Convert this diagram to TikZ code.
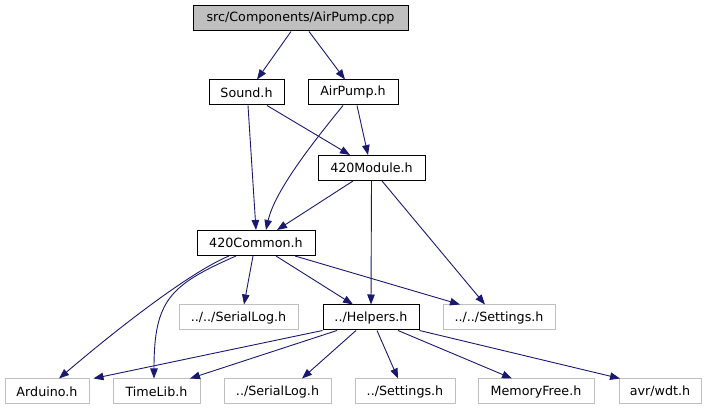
\documentclass[tikz,border=0pt]{standalone}
\usepackage{fontspec}
\setmainfont{DejaVu Sans}
\usepackage{tikz}
\usetikzlibrary{arrows.meta}
\definecolor{myedge}{RGB}{25,25,112}
\definecolor{mygrey}{RGB}{191,191,191}
\tikzset{
  filebox/.style={rectangle, draw=black, fill=white, line width=1pt,
    minimum height=25pt, inner sep=0pt, font=\fontsize{12.7}{15}\selectfont},
  extbox/.style={filebox, draw=mygrey},
  rootbox/.style={filebox, fill=mygrey},
  arrow/.style={-{Triangle[length=10pt,width=7.5pt]}, line width=0.9pt, color=myedge}
}

\begin{document}
\begin{tikzpicture}[x=1pt, y=-1pt]
  \useasboundingbox (0,0) rectangle (707,411);

  % Top level
  \node[rootbox, minimum width=215pt] (cpp) at (300.5,18.5) {src/Components/AirPump.cpp};
  \node[filebox, minimum width=75pt] (sound) at (246.5,92.5) {Sound.h};
  \node[filebox, minimum width=90pt] (airpump) at (353,92.5) {AirPump.h};
  \node[filebox, minimum width=107pt] (module) at (371.5,168) {420Module.h};
  \node[filebox, minimum width=118pt] (common) at (256,243) {420Common.h};

  % Middle row
  \node[extbox, minimum width=119pt] (seriallogB) at (238.5,317.5) {../../SerialLog.h};
  \node[filebox, minimum width=96pt] (helpers) at (371,317.5) {../Helpers.h};
  \node[extbox, minimum width=112pt] (settingsB) at (499,317.5) {../../Settings.h};

  % Bottom row
  \node[extbox, minimum width=84pt] (arduino) at (47,391.5) {Arduino.h};
  \node[extbox, minimum width=87pt] (timelib) at (156.5,391.5) {TimeLib.h};
  \node[extbox, minimum width=107pt] (seriallogA) at (277.5,391.5) {../SerialLog.h};
  \node[extbox, minimum width=100pt] (settingsA) at (405,391.5) {../Settings.h};
  \node[extbox, minimum width=116pt] (memfree) at (536,391.5) {MemoryFree.h};
  \node[extbox, minimum width=82pt] (wdt) at (660,391.5) {avr/wdt.h};

  % Includes of the source file
  \draw[arrow] ([xshift=-9.5pt]cpp.south) -- ([xshift=10.5pt]sound.north);
  \draw[arrow] ([xshift=8.5pt]cpp.south) -- ([xshift=-8pt]airpump.north);

  % Headers
  \draw[arrow] ([xshift=20.5pt]sound.south) -- ([xshift=-21.5pt]module.north);
  \draw[arrow] ([xshift=1.5pt]sound.south) -- (common.north);
  \draw[arrow] ([xshift=4pt]airpump.south) -- ([xshift=-3.5pt]module.north);
  \draw[arrow] ([xshift=-10pt]airpump.south) .. controls (315,140) and (275,190) .. ([xshift=10pt]common.north);
  \draw[arrow] ([xshift=-18.5pt]module.south) -- ([xshift=21pt]common.north);
  \draw[arrow] (module.south) -- (helpers.north);
  \draw[arrow] ([xshift=10.5pt]module.south) -- ([xshift=-14pt]settingsB.north);

  % 420Common.h
  \draw[arrow] ([xshift=-3pt]common.south) -- ([xshift=5.5pt]seriallogB.north);
  \draw[arrow] ([xshift=20pt]common.south) -- ([xshift=-18pt]helpers.north);
  \draw[arrow] ([xshift=39pt]common.south) -- ([xshift=-39pt]settingsB.north);
  \draw[arrow] ([xshift=-27pt]common.south) .. controls (195,270) and (130,318) .. ([xshift=12pt]arduino.north);
  \draw[arrow] ([xshift=-20pt]common.south) .. controls (170,285) and (154,300) .. ([xshift=-2.5pt]timelib.north);

  % Helpers.h
  \draw[arrow] (helpers.south west) -- ([xshift=4pt]arduino.north east);
  \draw[arrow] ([xshift=-34pt]helpers.south) -- ([xshift=33.5pt]timelib.north);
  \draw[arrow] ([xshift=-15pt]helpers.south) -- ([xshift=24.5pt]seriallogA.north);
  \draw[arrow] ([xshift=6pt]helpers.south) -- ([xshift=-7pt]settingsA.north);
  \draw[arrow] ([xshift=27pt]helpers.south) -- ([xshift=-24pt]memfree.north);
  \draw[arrow] (helpers.south east) -- ([xshift=-40pt]wdt.north);
\end{tikzpicture}
\end{document}
